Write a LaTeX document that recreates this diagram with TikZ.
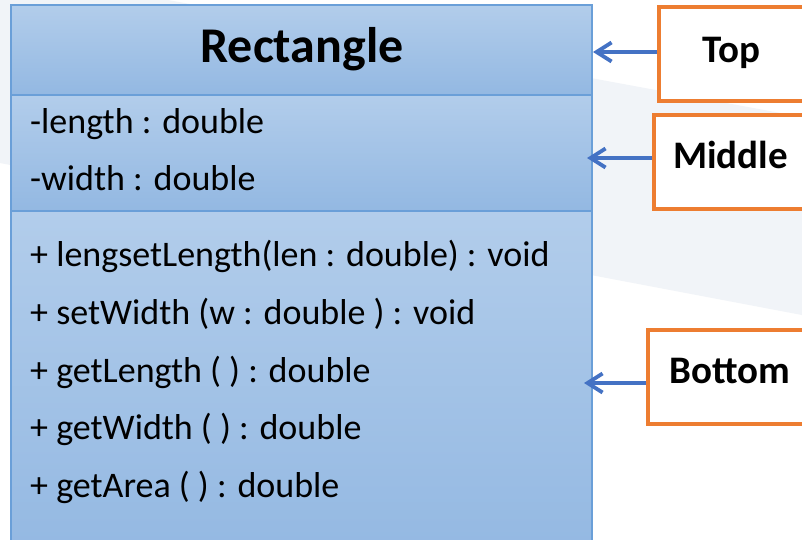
\documentclass[tikz,border=0pt]{standalone}
\usepackage{fontspec}
\setmainfont{Carlito}
\usetikzlibrary{arrows.meta}
\definecolor{bandgray}{HTML}{F1F4F8}
\definecolor{umllight}{HTML}{B2CDEB}
\definecolor{umldark}{HTML}{93B8E2}
\definecolor{umlline}{HTML}{6A9FD8}
\definecolor{calloutorange}{HTML}{ED7D31}
\definecolor{arrowblue}{HTML}{4472C4}
\tikzset{
  section/.style={draw=umlline, line width=1.5pt, top color=umllight, bottom color=umldark},
  member/.style={anchor=base west, inner sep=0pt, font=\fontsize{36}{40}\selectfont},
  callout/.style={draw=calloutorange, line width=3.5pt, fill=white, anchor=north west, inner sep=0pt},
  calltext/.style={anchor=base west, inner sep=0pt, font=\bfseries\fontsize{39}{44}\selectfont},
  pointer/.style={draw=arrowblue, line width=3.8pt, -{Straight Barb[length=15pt,width=19pt]}}
}
\begin{document}
\begin{tikzpicture}[x=1pt,y=-1pt]
\clip (0,0) rectangle (802,539);
\fill[white] (0,0) rectangle (802,539);
% faint diagonal band behind the diagram
\fill[bandgray] (0,-31) -- (802,117) -- (802,315) -- (0,163) -- cycle;

% class box: name, attributes, operations
\path[section] (11,5) rectangle (592,95);
\path[section] (11,95) rectangle (592,211);
\path[section] (11,211) rectangle (592,560);
\node[anchor=base, inner sep=0pt, font=\bfseries\fontsize{50}{58}\selectfont] (cname) at (302,62) {Rectangle};
\node[member] (a1) at (30,133) {-length : double};
\node[member] (a2) at (30,190) {-width : double};
\node[member] (m1) at (30,266) {+ lengsetLength(len : double) : void};
\node[member] (m2) at (30,324) {+ setWidth (w : double ) : void};
\node[member] (m3) at (30,382) {+ getLength ( ) : double};
\node[member] (m4) at (30,439) {+ getWidth ( ) : double};
\node[member] (m5) at (30,497) {+ getArea ( ) : double};

% callout boxes
\node[callout, minimum width=170pt, minimum height=94pt] (topbox) at (657,5) {};
\node[callout, minimum width=170pt, minimum height=94pt] (midbox) at (652,113) {};
\node[callout, minimum width=170pt, minimum height=94pt] (botbox) at (646,328) {};
\node[calltext] (toplbl) at (702,62) {Top};
\node[calltext] (midlbl) at (673,168) {Middle};
\node[calltext] (botlbl) at (669,383) {Bottom};

% pointers into the class box
\coordinate (toptip) at (593,52);
\coordinate (midtip) at (587,158);
\coordinate (bottip) at (584,383);
\draw[pointer] (topbox.west |- toptip) -- (toptip);
\draw[pointer] (midbox.west |- midtip) -- (midtip);
\draw[pointer] (botbox.west |- bottip) -- (bottip);
\end{tikzpicture}
\end{document}
